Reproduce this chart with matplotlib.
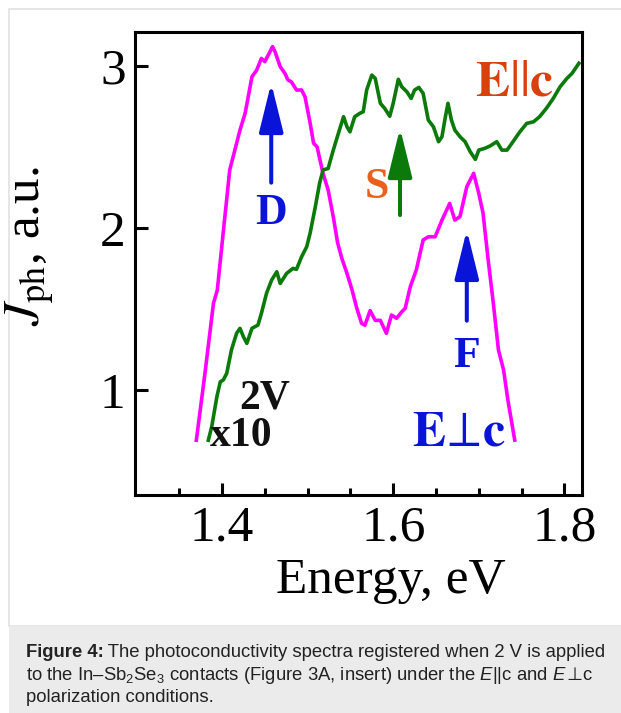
import matplotlib
matplotlib.use("Agg")
import matplotlib.pyplot as plt
from matplotlib.patches import Rectangle

# E perpendicular c (magenta)
perp_E = [1.370, 1.380, 1.390, 1.3945, 1.400, 1.409, 1.413, 1.421, 1.427, 1.435,
          1.4405, 1.446, 1.450, 1.453, 1.459, 1.462, 1.468, 1.4735, 1.477, 1.481,
          1.487, 1.493, 1.497, 1.503, 1.507, 1.511, 1.518, 1.524, 1.530, 1.535,
          1.540, 1.546, 1.552, 1.557, 1.563, 1.567, 1.573, 1.579, 1.585, 1.592,
          1.598, 1.604, 1.610, 1.614, 1.620, 1.627, 1.635, 1.641, 1.649, 1.657,
          1.666, 1.672, 1.678, 1.686, 1.694, 1.700, 1.705, 1.711, 1.717, 1.723,
          1.729, 1.734, 1.742]
perp_J = [0.69, 1.10, 1.535, 1.617, 1.90, 2.358, 2.44, 2.605, 2.708, 2.934,
          2.975, 3.047, 3.027, 3.057, 3.12, 3.088, 2.996, 2.955, 2.914, 2.903,
          2.852, 2.852, 2.81, 2.646, 2.523, 2.502, 2.338, 2.235, 2.07, 1.91,
          1.813, 1.72, 1.617, 1.514, 1.412, 1.40, 1.49, 1.43, 1.43, 1.35,
          1.463, 1.443, 1.483, 1.504, 1.638, 1.741, 1.926, 1.946, 1.946, 2.049,
          2.152, 2.049, 2.07, 2.255, 2.338, 2.214, 2.091, 1.802, 1.535, 1.247,
          1.123, 0.938, 0.691]

# E parallel c (green), x10
par_E = [1.384, 1.388, 1.394, 1.398, 1.4015, 1.4055, 1.411, 1.417, 1.421, 1.425,
         1.429, 1.435, 1.442, 1.446, 1.452, 1.458, 1.464, 1.468, 1.4755, 1.483,
         1.487, 1.493, 1.499, 1.503, 1.509, 1.514, 1.518, 1.524, 1.530, 1.536,
         1.542, 1.546, 1.5495, 1.555, 1.561, 1.565, 1.569, 1.575, 1.579, 1.581,
         1.585, 1.590, 1.596, 1.600, 1.606, 1.610, 1.616, 1.621, 1.625, 1.630,
         1.635, 1.641, 1.647, 1.653, 1.657, 1.661, 1.664, 1.668, 1.672, 1.678,
         1.684, 1.690, 1.696, 1.700, 1.707, 1.713, 1.721, 1.727, 1.733, 1.740,
         1.748, 1.756, 1.764, 1.771, 1.779, 1.787, 1.795, 1.803, 1.809, 1.817]
par_J = [0.69, 0.774, 0.959, 1.051, 1.062, 1.103, 1.247, 1.35, 1.381, 1.329,
         1.288, 1.381, 1.401, 1.473, 1.597, 1.679, 1.73, 1.658, 1.72, 1.751,
         1.745, 1.823, 1.885, 1.97, 2.131, 2.276, 2.358, 2.368, 2.481, 2.585,
         2.687, 2.625, 2.594, 2.687, 2.708, 2.718, 2.852, 2.944, 2.924, 2.872,
         2.77, 2.739, 2.69, 2.77, 2.918, 2.872, 2.841, 2.80, 2.852, 2.868,
         2.831, 2.667, 2.625, 2.533, 2.564, 2.687, 2.77, 2.667, 2.605, 2.564,
         2.533, 2.471, 2.424, 2.481, 2.492, 2.506, 2.533, 2.481, 2.481, 2.533,
         2.594, 2.646, 2.656, 2.687, 2.739, 2.80, 2.872, 2.924, 2.955, 3.017]

# arrows: (x, y_bottom, y_top)
arrow_D = (1.4575, 2.28, 2.895)
arrow_S = (1.608, 2.08, 2.617)
arrow_F = (1.686, 1.428, 1.988)

# caption pieces per line: (text, bold)
caption = [
    [("Figure 4:", True), (" The photoconductivity spectra registered when 2 V is applied", False)],
    [(r"to the In–Sb$_2$Se$_3$ contacts (Figure 3A, insert) under the $E$||c and $E$", False),
     ("⊥", False), ("c", False)],
    [("polarization conditions.", False)],
]

plt.rcParams["mathtext.fontset"] = "custom"
plt.rcParams["mathtext.rm"] = "Liberation Sans"
plt.rcParams["mathtext.it"] = "Liberation Sans:italic"
plt.rcParams["mathtext.bf"] = "Liberation Sans:bold"

SERIF = ["Liberation Serif", "DejaVu Serif"]
SANS = ["Liberation Sans", "DejaVu Sans"]
BLUE = "#0a14d8"
MAGENTA = "#ff00ff"
GREEN = "#0b7a0b"

fig = plt.figure(figsize=(6.21, 7.13), dpi=100)
W, H = 621, 713

# panel border and caption box
fig.add_artist(Rectangle((8.5 / W, 1 - 626 / H), 1.0, (626 - 8.5) / H,
                         transform=fig.transFigure, facecolor="white",
                         edgecolor="#e2e2e2", lw=1.2, zorder=-5))
fig.add_artist(Rectangle((8.5 / W, 0), 1.0, 1 - 626 / H,
                         transform=fig.transFigure, facecolor="#ebebeb",
                         edgecolor="none", zorder=-5))

ax = fig.add_axes([135.4 / W, 1 - 495 / H, (582 - 135.4) / W, (495 - 31.7) / H])
ax.patch.set_alpha(0)
ax.plot(perp_E, perp_J, color=MAGENTA, lw=2.6)
ax.plot(par_E, par_J, color=GREEN, lw=2.6)

ax.set_xlim(1.2988, 1.8206)
ax.set_ylim(0.352, 3.212)
ax.set_xticks([1.4, 1.6, 1.8])
ax.set_xticks([1.35, 1.45, 1.5, 1.55, 1.65, 1.7, 1.75], minor=True)
ax.set_yticks([1, 2, 3])
ax.tick_params(which="both", direction="in", width=2.2, top=False, right=False)
ax.tick_params(which="major", length=9, pad=7, labelsize=37)
ax.tick_params(which="minor", length=5)
for lab in ax.get_xticklabels() + ax.get_yticklabels():
    lab.set_family(SERIF)
for sp in ax.spines.values():
    sp.set_linewidth(2.2)

ax.set_xlabel("Energy, eV", family=SERIF, fontsize=37)
ax.xaxis.set_label_coords(0.573, -0.135)
ax.set_ylabel(r"$J_{\mathrm{ph}}$, a.u.", family=SERIF, fontsize=37,
              math_fontfamily="stix")
ax.yaxis.set_label_coords(-0.176, 0.537)

for (x, y0, y1), col in [(arrow_D, BLUE), (arrow_S, GREEN), (arrow_F, BLUE)]:
    ax.annotate("", xy=(x, y1), xytext=(x, y0),
                arrowprops=dict(arrowstyle="-|>,head_length=1.5,head_width=0.37",
                                mutation_scale=20, lw=2.9, color=col,
                                shrinkA=0, shrinkB=0))

bold = dict(family=SERIF, weight="bold", ha="center", va="baseline")
ax.text(1.4567, 2.025, "D", color=BLUE, fontsize=31.5, **bold)
ax.text(1.581, 2.185, "S", color="#e8601c", fontsize=31.5, **bold)
ax.text(1.686, 1.142, "F", color=BLUE, fontsize=31.5, **bold)
ax.text(1.742, 2.821, r"$\mathbf{E}||\mathbf{c}$", color="#d8400c", fontsize=37,
        math_fontfamily="stix", ha="center", va="baseline")
ax.text(1.677, 0.660, r"$\mathbf{E}\!\perp\!\mathbf{c}$", color=BLUE, fontsize=36,
        math_fontfamily="stix", ha="center", va="baseline")
ax.text(1.4497, 0.889, "2V", color="#111111", fontsize=30, **bold)
ax.text(1.4228, 0.654, "x10", color="#111111", fontsize=30, **bold)

# caption, laid out piece by piece
cap_fs = 13.3
renderer = fig.canvas.get_renderer()
for i, pieces in enumerate(caption):
    x = 25.7
    for txt, is_bold in pieces:
        t = fig.text(x / W, 1 - (657 + 22.5 * i) / H, txt, fontsize=cap_fs,
                     family=SANS, weight="bold" if is_bold else "normal",
                     color="#222222", ha="left", va="baseline")
        x += t.get_window_extent(renderer).width

fig.savefig("out.png", dpi=100)
